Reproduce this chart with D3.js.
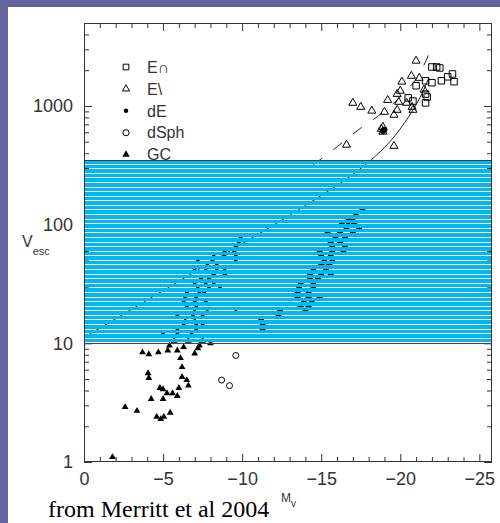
<!DOCTYPE html>
<html>
<head>
<meta charset="utf-8">
<script src="https://cdn.jsdelivr.net/npm/d3@7"></script>
<style>
  body { margin: 0; background: #64649e; }
  svg { display: block; }
</style>
</head>
<body>
<svg id="chart" width="500" height="523"></svg>
<script>

// E (core) galaxies - open squares
var eCoreMv = [-22.0, -22.3, -22.5, -23.3, -23.0, -22.6, -23.4, -22.0, -21.6, -21.0, -20.5, -20.8, -21.6, -21.7, -21.6];
var eCoreV  = [2130, 2130, 2090, 1860, 1760, 1630, 1600, 1570, 1630, 1480, 1170, 1100, 1260, 1190, 1060];

// E (power law) galaxies - open triangles
var ePowMv = [-21.0, -20.7, -21.2, -20.1, -20.0, -19.8, -19.2, -19.9, -19.8, -17.0, -17.5, -18.2, -19.0, -19.6, -20.4, -20.75, -20.8, -21.5, -18.9, -18.9, -18.8, -16.6, -19.6];
var ePowV  = [2400, 1790, 1720, 1600, 1340, 1260, 1120, 1080, 925, 1060, 980, 910, 890, 840, 1060, 980, 925, 1370, 665, 605, 640, 470, 460];

// dwarf ellipticals - filled dots
var dEMv = [-17.6, -17.2, -16.7, -17.0, -16.3, -17.1, -16.6, -17.4, -15.4, -16.2, -17.0, -15.9, -16.5, -15.6, -16.2,
            -15.7, -16.5, -14.9, -15.7, -16.4, -15.0, -15.6, -15.2, -15.7, -15.0, -15.5, -14.5, -15.3, -14.3, -15.0,
            -15.6, -14.3, -14.8, -13.7, -14.5, -13.6, -14.5, -13.5, -14.2, -13.5, -14.2, -14.9, -13.9, -14.4, -13.7,
            -14.2, -12.4, -14.0, -12.3, -11.2, -11.3, -11.3, -19.0, -18.9];
var dEV  = [132, 118, 107, 107, 101, 101, 92, 92, 85, 85, 85, 77, 77, 71, 71,
            65, 65, 59, 59, 59, 54, 54, 49, 49, 45.5, 45.5, 41, 41, 38, 38,
            38, 35, 35, 31.5, 31.5, 29, 29, 26.4, 26.4, 24.4, 24.4, 24.4, 22.2, 22.2, 20.5,
            20.5, 18.6, 18.6, 16.9, 15.6, 14.2, 13.1, 630, 615];

// dwarf spheroidals - open circles
var dSphMv = [-9.6, -8.7, -9.2];
var dSphV  = [7.9, 4.9, 4.4];

// globular clusters - filled triangles
var gcMv = [-9.9, -9.8, -9.6, -8.9, -9.5, -8.2, -8.9, -9.6, -7.2, -8.1, -9.6, -7.8, -8.4, -7.0, -7.7,
            -8.4, -8.9, -8.2, -8.9, -7.4, -7.9, -7.0, -7.7, -8.2, -7.2, -7.9, -8.6, -6.5, -7.3, -7.6,
            -6.4, -7.1, -6.3, -7.0, -7.7, -6.5, -7.1, -7.0, -7.8, -9.6, -5.9, -6.9, -7.5, -6.4, -7.0,
            -6.3, -7.1, -7.5, -5.9, -7.1, -5.0, -5.9, -6.8, -5.7, -6.6, -7.5,
            -3.7, -4.1, -4.7, -5.3, -5.4, -5.9, -6.1, -6.3, -7.0, -7.2, -7.3, -8.0, -6.2, -6.2, -6.5,
            -6.6, -6.0, -4.05, -4.1, -4.8, -5.0, -5.25, -5.6, -5.9, -5.0, -4.25, -2.6, -3.35, -4.6, -4.85,
            -5.05, -5.45, -1.8];
var gcV  = [77, 70, 65, 59, 59, 54, 54, 54, 49, 49, 49, 45.5, 45.5, 41, 41,
            41, 41, 38, 38, 35, 35, 31.5, 31.5, 31.5, 29, 29, 29, 26.4, 26.4, 26.4,
            24, 24, 22.2, 22.2, 22.2, 20.1, 20.1, 18.3, 18.3, 18.3, 16.9, 16.9, 16.9, 15.3, 15.3,
            14.2, 14.2, 14.2, 12.9, 12.9, 11.9, 11.9, 11.9, 10.5, 10.5, 10.5,
            8.4, 8.1, 8.4, 8.7, 9.6, 8.7, 7.5, 9.3, 8.2, 9.1, 9.6, 10, 6.3, 5.2, 4.9,
            4.4, 4.2, 5.6, 5.1, 4.2, 4.1, 3.8, 3.8, 3.6, 3.4, 3.4, 2.9, 2.7, 2.4, 2.3,
            2.4, 2.6, 1.1];

// model curves
var solidMv = [0, -8, -14, -17, -18.15, -19.8, -20.8, -21.4, -21.8];
var solidV  = [11.2, 48, 145, 265, 350, 592, 925, 1290, 1720];
var dashMv  = [-14.5, -15.75, -17.33, -18.85, -20.3, -21.25, -21.9];
var dashV   = [320, 426, 627, 873, 1310, 1900, 2910];

// shaded band
var bandV = [10, 350];

var xMajor = [0, -5, -10, -15, -20, -25];
var xTickLabels = ["0", "\u22125", "\u221210", "\u221215", "\u221220", "\u221225"];
var yMajor = [1, 10, 100, 1000];
var yTickLabels = ["1", "10", "100", "1000"];
var legendLabels = ["E\u2229", "E\\", "dE", "dSph", "GC"];

var svg = d3.select("#chart");

svg.append("rect")
  .attr("x", 8).attr("y", 7)
  .attr("width", 492).attr("height", 516)
  .attr("fill", "#fff");

var x = d3.scaleLinear().domain([0, -25.8]).range([84, 492]);
var y = d3.scaleLog().domain([1, 5000]).range([462, 23]);

var xMinor = d3.range(0, -26, -1).filter(function(d) { return xMajor.indexOf(d) < 0; });
var yMinor = y.ticks().filter(function(d) { return yMajor.indexOf(d) < 0; });

function styleAxis(g) {
  g.select(".domain").remove();
  g.attr("color", "#333")
    .attr("font-family", "'Liberation Sans', Arial, sans-serif")
    .attr("font-size", 18);
  g.selectAll("text").attr("fill", "#333");
}

// ticks on all four sides, pointing in
svg.append("g").attr("transform", "translate(84,0)")
  .call(d3.axisLeft(y).tickValues(yMinor).tickSize(-5).tickFormat(""))
  .call(styleAxis);
svg.append("g").attr("class", "y axis").attr("transform", "translate(84,0)")
  .call(d3.axisLeft(y).tickValues(yMajor).tickSize(-8).tickPadding(11)
    .tickFormat(function(d, i) { return yTickLabels[i]; }))
  .call(styleAxis);
svg.append("g").attr("transform", "translate(492,0)")
  .call(d3.axisRight(y).tickValues(yMinor).tickSize(-5).tickFormat(""))
  .call(styleAxis);
svg.append("g").attr("transform", "translate(492,0)")
  .call(d3.axisRight(y).tickValues(yMajor).tickSize(-8).tickFormat(""))
  .call(styleAxis);

svg.append("g").attr("transform", "translate(0,23)")
  .call(d3.axisTop(x).tickValues(xMinor).tickSize(-5).tickFormat(""))
  .call(styleAxis);
svg.append("g").attr("transform", "translate(0,23)")
  .call(d3.axisTop(x).tickValues(xMajor).tickSize(-8).tickFormat(""))
  .call(styleAxis);
svg.append("g").attr("transform", "translate(0,462)")
  .call(d3.axisBottom(x).tickValues(xMinor).tickSize(-5).tickFormat(""))
  .call(styleAxis);
svg.append("g").attr("class", "x axis").attr("transform", "translate(0,462)")
  .call(d3.axisBottom(x).tickValues(xMajor).tickSize(-8).tickPadding(10)
    .tickFormat(function(d, i) { return xTickLabels[i]; }))
  .call(styleAxis);

// curves
var line = d3.line()
  .x(function(d) { return x(d[0]); })
  .y(function(d) { return y(d[1]); })
  .curve(d3.curveMonotoneX);

svg.append("path")
  .datum(d3.zip(solidMv, solidV))
  .attr("d", line)
  .attr("fill", "none").attr("stroke", "#222").attr("stroke-width", 1);

svg.append("path")
  .datum(d3.zip(dashMv, dashV))
  .attr("d", line)
  .attr("fill", "none").attr("stroke", "#222").attr("stroke-width", 1)
  .attr("stroke-dasharray", "11,14").attr("stroke-dashoffset", 0);

// points
function place(d) { return "translate(" + x(d[0]) + "," + y(d[1]) + ")"; }

function plotSymbols(mv, v, type, size, fill) {
  svg.append("g").selectAll("path")
    .data(d3.zip(mv, v))
    .enter()
    .append("path")
    .attr("transform", place)
    .attr("d", d3.symbol(type, size))
    .attr("fill", fill ? "#000" : "none")
    .attr("stroke", fill ? "none" : "#000")
    .attr("stroke-width", 1);
}

plotSymbols(eCoreMv, eCoreV, d3.symbolSquare, 42, false);
plotSymbols(ePowMv, ePowV, d3.symbolTriangle, 28, false);
plotSymbols(gcMv, gcV, d3.symbolTriangle, 20, true);

svg.append("g").selectAll("circle")
  .data(d3.zip(dEMv, dEV))
  .enter()
  .append("circle")
  .attr("cx", function(d) { return x(d[0]); })
  .attr("cy", function(d) { return y(d[1]); })
  .attr("r", 3)
  .attr("fill", "#000");

svg.append("g").selectAll("circle")
  .data(d3.zip(dSphMv, dSphV))
  .enter()
  .append("circle")
  .attr("cx", function(d) { return x(d[0]); })
  .attr("cy", function(d) { return y(d[1]); })
  .attr("r", 3)
  .attr("fill", "none").attr("stroke", "#000");

// striped band laid over the data, thin gaps let it show through
var bandTop = y(bandV[1]), bandBottom = y(bandV[0]);
var nStripes = 40;
var period = (bandBottom - bandTop) / nStripes;

svg.append("g").attr("shape-rendering", "crispEdges")
  .selectAll("rect")
  .data(d3.range(nStripes))
  .enter()
  .append("rect")
  .attr("x", 85)
  .attr("y", function(k) { return Math.round(bandTop + k * period); })
  .attr("width", 406)
  .attr("height", function(k) {
    return Math.round(bandTop + (k + 1) * period) - Math.round(bandTop + k * period) - 1;
  })
  .attr("fill", "#00b8f0");

svg.append("rect")
  .attr("x", 84.5).attr("y", Math.round(bandTop) + 0.5)
  .attr("width", 407).attr("height", Math.round(bandBottom) - Math.round(bandTop))
  .attr("fill", "none").attr("stroke", "#444");

// frame
svg.append("rect")
  .attr("x", 84.5).attr("y", 23.5)
  .attr("width", 407).attr("height", 438)
  .attr("fill", "none").attr("stroke", "#333");

// legend
var legend = svg.append("g").attr("transform", "translate(126,67)");
var rowH = 21.9;
var legendSymbols = [
  [d3.symbolSquare, 32, false],
  [d3.symbolTriangle, 22, false],
  [d3.symbolCircle, 16, true],
  [d3.symbolCircle, 30, false],
  [d3.symbolTriangle, 24, true]
];

legend.selectAll("path")
  .data(legendSymbols)
  .enter()
  .append("path")
  .attr("transform", function(d, i) { return "translate(0," + i * rowH + ")"; })
  .attr("d", function(d) { return d3.symbol(d[0], d[1])(); })
  .attr("fill", function(d) { return d[2] ? "#000" : "none"; })
  .attr("stroke", function(d) { return d[2] ? "none" : "#000"; });

legend.selectAll("text")
  .data(legendLabels)
  .enter()
  .append("text")
  .attr("x", 21)
  .attr("y", function(d, i) { return i * rowH; })
  .attr("dy", "0.36em")
  .attr("font-family", "'Liberation Sans', Arial, sans-serif")
  .attr("font-size", 16)
  .attr("fill", "#333")
  .text(function(d) { return d; });

// axis titles
var yTitle = svg.append("text")
  .attr("x", 22).attr("y", 247)
  .attr("font-family", "'Liberation Sans', Arial, sans-serif")
  .attr("fill", "#333");
yTitle.append("tspan").attr("font-size", 16).text("V");
yTitle.append("tspan").attr("font-size", 11).attr("dy", 8).text("esc");

svg.append("text")
  .attr("x", 48).attr("y", 517)
  .attr("font-family", "'Liberation Serif', 'Times New Roman', serif")
  .attr("font-size", 24)
  .attr("fill", "#000")
  .text("from Merritt et al 2004");

var xTitle = svg.append("text")
  .attr("x", 281).attr("y", 502)
  .attr("font-family", "'Liberation Sans', Arial, sans-serif")
  .attr("fill", "#333");
xTitle.append("tspan").attr("font-size", 12).text("M");
xTitle.append("tspan").attr("font-size", 10).attr("dy", 5).text("v");

</script>
</body>
</html>
